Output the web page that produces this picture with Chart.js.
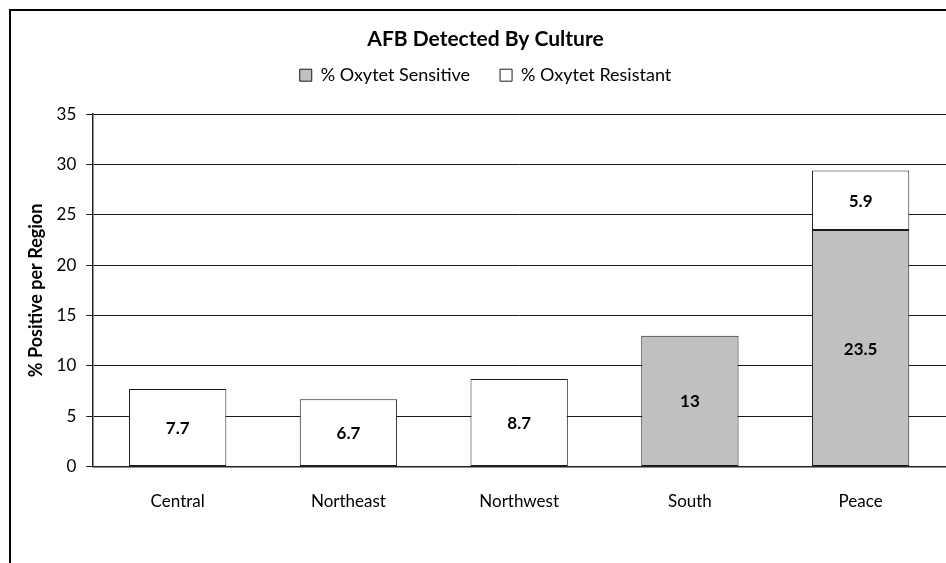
<!DOCTYPE html>
<html>
<head>
<meta charset="utf-8">
<script src="https://cdn.jsdelivr.net/npm/chart.js@4"></script>
<style>
  body { margin: 0; background: #fff; }
  #wrap { position: relative; width: 946px; height: 563px; background: #fff; overflow: hidden; }
  #frame { position: absolute; left: 9px; top: 9px; width: 1000px; height: 1000px; border-left: 2px solid #000; border-top: 2px solid #000; }
  canvas { position: absolute; left: 0; top: 0; }
</style>
</head>
<body>
<div id="wrap">
  <div id="frame"></div>
  <canvas id="chart" width="946" height="563"></canvas>
</div>
<script>
// ================================================================
//  AFB DETECTED BY CULTURE
// ================================================================
const regions = ['Central', 'Northeast', 'Northwest', 'South', 'Peace'];
const sensitive = [null, null, null, 13, 23.5];
const resistant = [7.7, 6.7, 8.7, null, 5.9];
const yTicks = [0, 5, 10, 15, 20, 25, 30, 35];

const FONT = 'Lato, "Open Sans", sans-serif';

// value labels centred in each bar segment
const barLabels = {
  id: 'barLabels',
  afterDatasetsDraw(chart) {
    const ctx = chart.ctx;
    ctx.save();
    ctx.font = 'bold 17px ' + FONT;
    ctx.fillStyle = '#000';
    ctx.textAlign = 'center';
    ctx.textBaseline = 'middle';
    chart.data.datasets.forEach((ds, i) => {
      chart.getDatasetMeta(i).data.forEach((bar, j) => {
        const v = ds.data[j];
        if (v == null) return;
        const p = bar.getProps(['x', 'y', 'base'], true);
        ctx.fillText(String(v), p.x, (p.y + p.base) / 2 + 1);
      });
    });
    ctx.restore();
  }
};

// extra room between legend and plot
const legendGap = {
  id: 'legendGap',
  beforeInit(chart) {
    const fit = chart.legend.fit;
    chart.legend.fit = function () {
      fit.call(this);
      this.height += 20;
    };
  }
};

new Chart(document.getElementById('chart').getContext('2d'), {
  type: 'bar',
  data: {
    labels: regions,
    datasets: [
      { label: '% Oxytet Sensitive', data: sensitive, backgroundColor: '#c0c0c0', borderColor: '#1a1a1a', borderWidth: 1, borderSkipped: false },
      { label: '% Oxytet Resistant', data: resistant, backgroundColor: '#ffffff', borderColor: '#1a1a1a', borderWidth: 1, borderSkipped: false }
    ]
  },
  options: {
    responsive: false,
    animation: false,
    layout: { padding: { left: 25, right: 0, top: 0, bottom: 26 } },
    datasets: { bar: { barPercentage: 0.57, categoryPercentage: 1 } },
    plugins: {
      title: {
        display: true, text: 'AFB Detected By Culture', color: '#000',
        font: { family: FONT, size: 21, weight: 'bold' },
        padding: { top: 27, bottom: -16 }
      },
      legend: {
        display: true,
        labels: {
          color: '#000', font: { family: FONT, size: 18 },
          boxWidth: 12, boxHeight: 12, padding: 30
        }
      },
      tooltip: { enabled: false }
    },
    scales: {
      x: {
        stacked: true,
        grid: { display: false, drawTicks: false },
        border: { display: true, color: '#222', width: 1.5 },
        ticks: { color: '#000', font: { family: FONT, size: 17 }, padding: 25 }
      },
      y: {
        stacked: true,
        min: 0, max: 35,
        afterBuildTicks: axis => { axis.ticks = yTicks.map(v => ({ value: v })); },
        grid: { color: '#1a1a1a', lineWidth: 1, tickLength: 6 },
        border: { display: true, color: '#222', width: 1.5 },
        ticks: { color: '#000', font: { family: FONT, size: 17 }, padding: 10 },
        title: {
          display: true, text: '% Positive per Region', color: '#000',
          font: { family: FONT, size: 18, weight: 'bold' }, padding: { top: 0, bottom: 0 }
        }
      }
    }
  },
  plugins: [barLabels, legendGap]
});
</script>
</body>
</html>
